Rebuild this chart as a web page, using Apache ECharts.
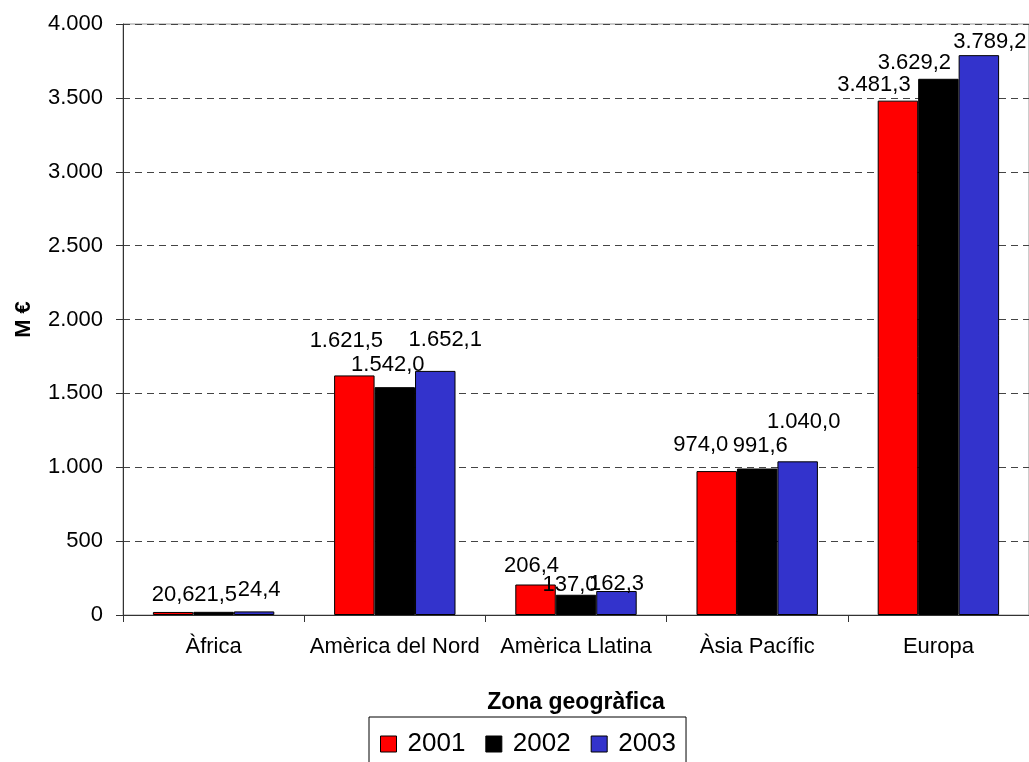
<!DOCTYPE html>
<html>
<head>
<meta charset="utf-8">
<script src="https://cdn.jsdelivr.net/npm/echarts@6/dist/echarts.min.js"></script>
<style>
html,body{margin:0;padding:0;background:#fff;}
#chart{width:1029px;height:762px;}
</style>
</head>
<body>
<div id="chart"></div>
<script>
const categories = ['Àfrica', 'Amèrica del Nord', 'Amèrica Llatina', 'Àsia Pacífic', 'Europa'];
const seriesNames = ['2001', '2002', '2003'];
const values2001 = [20.6, 1621.5, 206.4, 974.0, 3481.3];
const values2002 = [21.5, 1542.0, 137.0, 991.6, 3629.2];
const values2003 = [24.4, 1652.1, 162.3, 1040.0, 3789.2];
const yTicks = [0, 500, 1000, 1500, 2000, 2500, 3000, 3500, 4000];

// styling only: small nudges of the value labels, as placed in the original chart
const labelNudge2001 = [[0, -1], [-8, -18], [-4, -3], [-16, -10], [-24, 0]];
const labelNudge2002 = [[2, -1], [-7, -6], [-6, 6], [3, -7], [-24, 0]];
const labelNudge2003 = [[5, -5], [10, -15], [0, 9], [6, -23], [11, 3]];

const colors = ['#FF0000', '#000000', '#3333CC'];
const FONT = '"Liberation Sans", Arial, sans-serif';

function fmt(v, dec) {
  const s = v.toFixed(dec);
  const parts = s.split('.');
  const intPart = parts[0].replace(/\B(?=(\d{3})+(?!\d))/g, '.');
  return parts.length > 1 ? intPart + ',' + parts[1] : intPart;
}

const allValues = [values2001, values2002, values2003];
const allNudges = [labelNudge2001, labelNudge2002, labelNudge2003];

const chart = echarts.init(document.getElementById('chart'));
chart.setOption({
  animation: false,
  textStyle: { fontFamily: FONT },
  grid: { left: 123, right: -4, top: 24, bottom: 147, show: true, borderColor: '#999', borderWidth: 1 },
  legend: {
    data: seriesNames,
    top: 717,
    left: 369,
    itemWidth: 16,
    itemHeight: 16,
    itemGap: 20,
    icon: 'rect',
    borderColor: '#000',
    borderWidth: 1,
    padding: [14, 10, 14, 11],
    itemStyle: { borderColor: '#000', borderWidth: 1 },
    textStyle: { fontSize: 26, color: '#000', fontFamily: FONT, padding: [0, 0, 0, 6] }
  },
  xAxis: {
    type: 'category',
    data: categories,
    name: 'Zona geogràfica',
    nameLocation: 'middle',
    nameGap: 76,
    nameTextStyle: { fontSize: 23, fontWeight: 'bold', color: '#000', fontFamily: FONT, verticalAlign: 'top' },
    axisLine: { lineStyle: { color: '#333', width: 1 } },
    axisTick: { show: true, alignWithLabel: false, length: 7, lineStyle: { color: '#333' } },
    axisLabel: { fontSize: 22, color: '#000', margin: 21, interval: 0, hideOverlap: false },
    splitLine: { show: false }
  },
  yAxis: {
    type: 'value',
    min: yTicks[0],
    max: yTicks[yTicks.length - 1],
    interval: yTicks[1] - yTicks[0],
    name: 'M €',
    nameLocation: 'middle',
    nameGap: 88,
    nameTextStyle: { fontSize: 22, fontWeight: 'bold', color: '#000', fontFamily: FONT },
    axisLine: { show: true, lineStyle: { color: '#333', width: 1 } },
    axisTick: { show: true, length: 7, lineStyle: { color: '#333' } },
    axisLabel: { fontSize: 22, color: '#000', margin: 20, formatter: v => fmt(v, 0) },
    splitLine: { show: true, lineStyle: { color: '#444', type: [7, 5], width: 1 } }
  },
  series: seriesNames.map((name, i) => ({
    name: name,
    type: 'bar',
    data: allValues[i].map((v, j) => ({ value: v, label: { offset: allNudges[i][j] } })),
    barGap: '0%',
    barCategoryGap: '33%',
    itemStyle: { color: colors[i], borderColor: '#000', borderWidth: 1 },
    label: {
      show: true,
      position: 'top',
      distance: 5,
      fontSize: 22,
      color: '#000',
      fontFamily: FONT,
      formatter: p => fmt(p.value, 1)
    }
  }))
});
</script>
</body>
</html>
